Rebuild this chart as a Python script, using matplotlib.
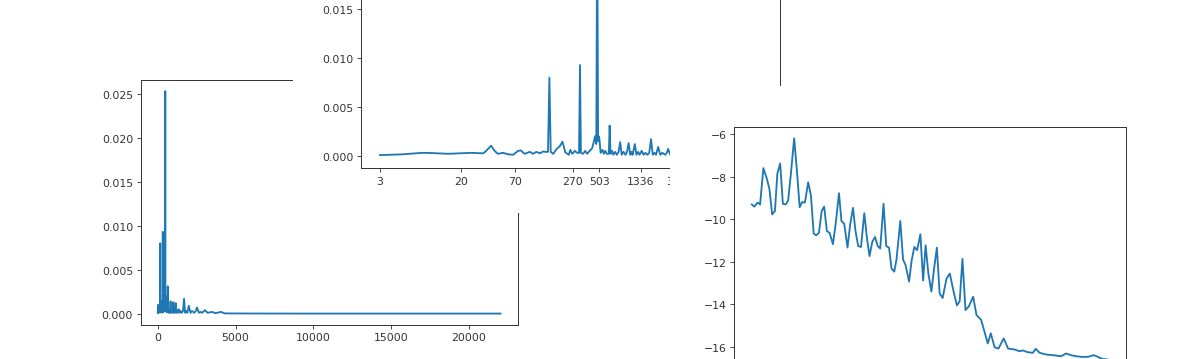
import numpy as np
import matplotlib.pyplot as plt
from matplotlib.patches import Rectangle
from matplotlib.ticker import NullLocator

# spectrum (frequency in Hz, amplitude)
freq = [3, 4.9, 8.1, 9.9, 14.7, 25.3, 33.3, 35, 40.2, 43.6, 47.2, 53, 60, 67.5,
        75.4, 80.4, 88, 99.6, 107, 116, 126, 136, 143, 152, 157, 162, 172, 186,
        201, 213, 228, 247, 256, 268, 285, 300, 314, 321, 328, 345, 363, 380,
        402, 428, 457, 470, 480, 490, 497, 505, 520, 545, 560, 580, 600, 630, 642,
        655, 680, 700, 730, 760, 790, 822, 850, 890, 930, 965, 1000, 1040, 1070,
        1100, 1156, 1200, 1250, 1290, 1357, 1420, 1480, 1550, 1620, 1690, 1760,
        1830, 1900, 1995, 2100, 2200, 2350, 2440, 2520, 2650, 2750, 2850, 3030,
        3200, 3500, 3700, 4070, 4300, 6000, 9000, 14000, 18000, 22050]
amp = [0.00007, 0.00014, 0.0003, 0.00028, 0.0002, 0.0003, 0.00025, 0.0004,
       0.00103, 0.0005, 0.0002, 0.0003, 0.00015, 0.0001, 0.0005, 0.00055,
       0.0002, 0.0004, 0.0002, 0.0004, 0.00025, 0.00045, 0.0004, 0.0004, 0.0080,
       0.0004, 0.0002, 0.0007, 0.001, 0.00144, 0.00035, 0.0001, 0.0006, 0.0002,
       0.0005, 0.0003, 0.0003, 0.0093, 0.0003, 0.0002, 0.0005, 0.0002, 0.0005,
       0.0008, 0.002, 0.0012, 0.0253, 0.0015, 0.002, 0.0018, 0.0003, 0.0006,
       0.0002, 0.0005, 0.0002, 0.0002, 0.0031, 0.0002, 0.0005, 0.0001, 0.0004,
       0.0001, 0.0004, 0.0014, 0.0001, 0.0004, 0.0001, 0.0004, 0.0013, 0.0001,
       0.0004, 0.0001, 0.0012, 0.0001, 0.0004, 0.0001, 0.0005, 0.0001, 0.0003,
       0.0001, 0.0003, 0.0017, 0.0001, 0.0003, 0.0001, 0.0009, 0.0001, 0.0003,
       0.0001, 0.0003, 0.0007, 0.0001, 0.0002, 0.0001, 0.0004, 0.0001, 0.0002,
       0.00005, 0.0002, 0.00003, 0.00002, 0.00001, 0.00001, 0.00001, 0.00001]

log_ticks = [3, 20, 70, 270, 503, 1336, 3300]
log_labels = ['3', '20', '70', '270', '503', '1336', '3300']

# log spectrum per bin
bins = [0, 0.9, 2.1, 3, 4.2, 5.5, 6.4, 7.4, 8.4, 9.3, 10.3, 11.3, 12.3, 13.2,
        14.2, 15.4, 16.4, 17.4, 18.3, 19.3, 20.5, 21.5, 22.5, 23.4, 24.4, 25.4,
        26.3, 27.3, 28.3, 29.5, 30.5, 31.7, 32.6, 33.6, 34.8, 35.8, 36.8, 37.7,
        38.7, 39.7, 40.9, 41.9, 42.8, 43.8, 44.8, 45.8, 46.7, 47.9, 48.9, 49.9,
        50.8, 51.8, 52.6, 53.3, 54.0, 55.0, 55.9, 57.2, 58.1, 59.1, 60.1, 61.3,
        62.3, 63.2, 64.2, 65.3, 66.3, 67.3, 68.3, 69.4, 70.8, 72.0, 73.4, 74.6,
        75.6, 76.6, 77.7, 78.9, 80.5, 81.7, 83.4, 84.6, 85.8, 86.9, 88.3, 89.7,
        91.6, 93.2, 95.5, 97.3, 98.6, 100.4, 102.2, 103.2, 104.7, 107.1, 110.1,
        112.5, 114.3, 116.1, 117.9, 120.0, 122.2, 124.4, 125.9, 127.1, 129.6]
logamp = [-9.30, -9.40, -9.21, -9.30, -7.59, -8.10, -8.57, -9.77, -9.61, -7.84,
          -7.37, -9.27, -9.30, -9.12, -7.87, -6.19, -7.71, -9.43, -9.19, -9.21,
          -8.26, -8.88, -10.67, -10.75, -10.64, -9.61, -9.40, -10.55, -10.64,
          -11.17, -10.21, -8.77, -10.08, -10.21, -11.33, -10.21, -9.46, -10.55,
          -11.26, -11.30, -9.71, -10.91, -11.73, -11.06, -10.83, -11.26, -11.37,
          -9.27, -11.26, -11.33, -12.31, -12.46, -11.9, -11.0, -10.08, -11.89,
          -12.15, -12.93, -11.95, -11.30, -11.45, -10.70, -12.88, -11.22,
          -12.54, -13.40, -12.3, -11.33, -13.49, -13.70, -12.79, -12.55, -13.41,
          -14.05, -13.85, -11.86, -14.27, -14.10, -13.64, -14.50, -14.73,
          -15.28, -15.84, -15.36, -16.02, -16.08, -15.60, -16.08, -16.12,
          -16.20, -16.17, -16.25, -16.28, -16.09, -16.28, -16.36, -16.40,
          -16.44, -16.31, -16.39, -16.44, -16.47, -16.47, -16.39, -16.47,
          -16.55, -16.60]

plt.rcParams['lines.linewidth'] = 1.7
plt.rcParams['axes.linewidth'] = 0.9
plt.rcParams['axes.edgecolor'] = '#333333'
plt.rcParams['xtick.color'] = '#333333'
plt.rcParams['ytick.color'] = '#333333'

W, H = 1200, 360
dpi = 78
fig = plt.figure(figsize=(W / dpi, H / dpi), dpi=dpi)


def frame(l, t, r, b):
    # pixel box (top-left origin) -> figure rect
    return [l / W, 1 - b / H, (r - l) / W, (b - t) / H]


# linear spectrum
ax1 = fig.add_axes(frame(140.7, 81, 517.7, 325.7), zorder=1)
ax1.plot(freq, amp)

# second output, pasted over the first
bg2 = Rectangle((293 / W, 1 - 214 / H), 520 / W, 0.7, transform=fig.transFigure,
                facecolor='white', edgecolor='none', zorder=2)
fig.add_artist(bg2)
ax2 = fig.add_axes(frame(361, -102.4, 780, 169), zorder=3)
ax2.plot(freq, amp)
ax2.set_xscale('log')
ax2.set_xticks(log_ticks)
ax2.set_xticklabels(log_labels)
ax2.xaxis.set_minor_locator(NullLocator())

# third output
bg3 = Rectangle((670 / W, -0.2), 530 / W, 0.2 + 1 - 87 / H, transform=fig.transFigure,
                facecolor='white', edgecolor='none', zorder=4)
fig.add_artist(bg3)
ax3 = fig.add_axes(frame(734, 128.3, 1126, 371.7), zorder=5)
ax3.plot(bins, logamp)

fig.savefig('out.png', dpi=dpi)
